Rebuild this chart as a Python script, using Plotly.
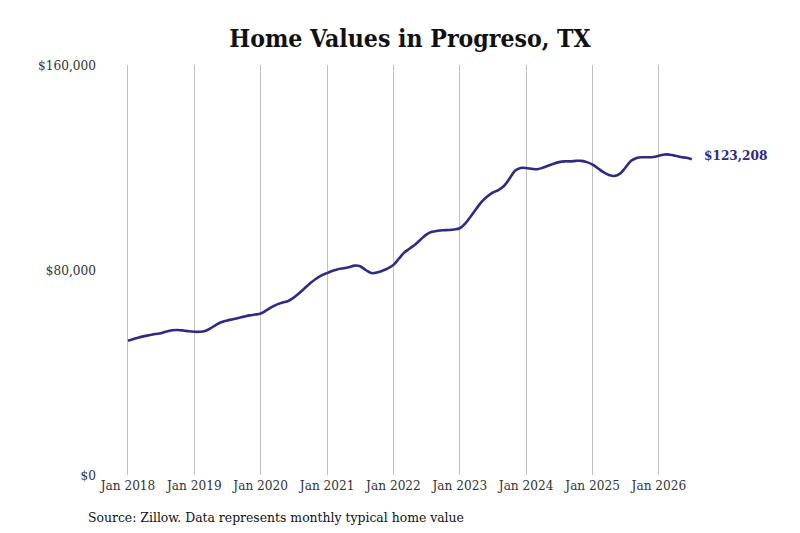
import plotly.graph_objects as go
import pandas as pd

# monthly typical home value, Jan 2018 .. Jul 2026
values_2018 = [52400, 53100, 53700, 54200, 54600, 55000, 55300, 56000, 56500, 56600, 56400, 56100]
values_2019 = [55900, 55900, 56200, 57300, 58600, 59700, 60300, 60800, 61300, 61800, 62300, 62600]
values_2020 = [63000, 64200, 65500, 66600, 67300, 67900, 69200, 71000, 73000, 74900, 76600, 77900]
values_2021 = [78800, 79700, 80300, 80700, 81100, 81700, 81500, 80000, 78800, 79000, 79700, 80600]
values_2022 = [82000, 84500, 86800, 88400, 90000, 92000, 93800, 94900, 95300, 95500, 95600, 95800]
values_2023 = [96300, 98200, 100800, 103800, 106600, 108700, 110200, 111200, 112800, 115600, 118700, 119800]
values_2024 = [119800, 119500, 119300, 119900, 120700, 121500, 122100, 122400, 122400, 122600, 122600, 122100]
values_2025 = [121100, 119600, 118200, 117100, 116700, 117600, 120000, 122600, 123700, 124000, 124000, 124100]
values_2026 = [124600, 125100, 125000, 124600, 124100, 123800, 123208]

values = (values_2018 + values_2019 + values_2020 + values_2021 + values_2022
          + values_2023 + values_2024 + values_2025 + values_2026)
dates = pd.date_range('2018-01-01', periods=len(values), freq='MS')

tick_dates = pd.date_range('2018-01-01', '2026-01-01', freq='YS')
tick_labels = [d.strftime('Jan %Y') for d in tick_dates]
y_ticks = [0, 80000, 160000]
y_labels = ['$0', '$80,000', '$160,000']

line_color = '#2e2b80'
serif = 'DejaVu Serif Condensed, DejaVu Serif, serif'

fig = go.Figure()
fig.add_trace(go.Scatter(x=dates, y=values, mode='lines',
                         line=dict(color=line_color, width=2.6, shape='spline'),
                         hoverinfo='x+y', showlegend=False))

# end-of-line value label
fig.add_annotation(x=dates[-1], y=values[-1], text=f'<b>${values[-1]:,}</b>',
                   showarrow=False, xanchor='left', xshift=10, yshift=4,
                   font=dict(family=serif, size=13.5, color=line_color))

fig.add_annotation(x=-0.023, y=-0.102, xref='paper', yref='paper',
                   text='Source: Zillow. Data represents monthly typical home value',
                   showarrow=False, xanchor='left', yanchor='middle',
                   font=dict(family=serif, size=13.8, color='#111'))

# the page body keeps an 8px margin, so the figure is 8px smaller than the window
fig.update_layout(
    width=792, height=525,
    title=dict(text='<b>Home Values in Progreso, TX</b>', x=0.5 + 6 / 792, xanchor='center',
               y=1 - 30 / 525, yanchor='middle',
               font=dict(family=serif, size=24.6, color='#111')),
    font=dict(family=serif, size=13.5, color='#333'),
    plot_bgcolor='white', paper_bgcolor='white',
    margin=dict(l=92, r=100, t=57, b=58),
    xaxis=dict(range=['2017-07-31', '2026-08-15'], tickvals=tick_dates, ticktext=tick_labels,
               showgrid=True, gridcolor='#bfbfbf', gridwidth=1, zeroline=False,
               showline=False, ticks='', tickfont=dict(size=13.5, color='#333')),
    yaxis=dict(range=[0, 160000], tickvals=y_ticks, ticktext=y_labels,
               showgrid=False, zeroline=False, showline=False, ticks='',
               ticklabelstandoff=3, tickfont=dict(size=13.5, color='#333')),
)

fig.write_html('out.html')
